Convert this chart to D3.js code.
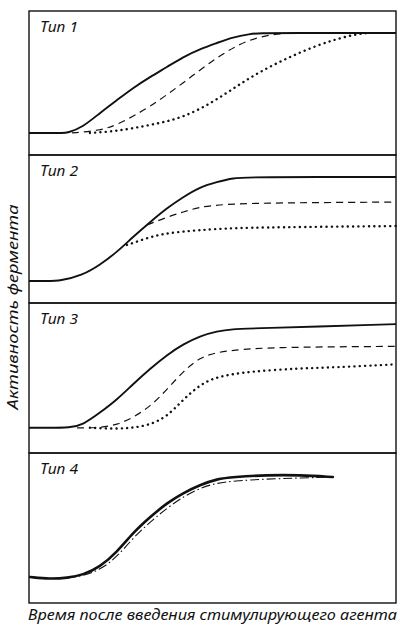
<!DOCTYPE html>
<html><head><meta charset="utf-8">
<script src="https://cdn.jsdelivr.net/npm/d3@7"></script>
<style>
html,body{margin:0;padding:0;background:#fff;}
svg{display:block;}
text{font-family:"Noto Sans","Open Sans",Lato,sans-serif;font-style:italic;fill:#111;}
</style></head>
<body>
<svg id="chart" width="405" height="631"></svg>
<script>
// ---- Data (time 0..100, enzyme activity 0..100 within each panel) ----
const panelTitles = ["Тип 1", "Тип 2", "Тип 3", "Тип 4"];
const yAxisLabel = "Активность фермента";
const xAxisLabel = "Время после введения стимулирующего агента";

const type1Solid  = [[0,15.3],[5,15.3],[9.3,15.3],[10.4,15.3],[14.7,19.4],[19.3,29.2],[24.0,38.2],[28.3,46.5],[33.0,54.2],[37.6,61.1],[42.0,68.1],[46.6,73.6],[51.2,77.8],[55.6,81.9],[60.2,84.0],[62.9,84.7],[70,84.7],[100,84.7],[100,84.7]];
const type1Dashed = [[11.7,15.3],[11.7,15.3],[19.3,17.0],[24.0,20.8],[33.0,33.3],[42.0,50.0],[51.2,68.1],[60.2,81.3],[69.2,84.7],[75,84.7],[75,84.7]];
const type1Dotted = [[16.6,15.3],[16.6,15.3],[24.0,16.5],[33.0,20.8],[42.0,25.7],[51.2,38.2],[60.2,54.2],[69.2,66.0],[78.5,76.4],[87.5,83.3],[92.1,84.7],[92.1,84.7]];

const type2Solid  = [[0,14.9],[5,14.9],[8.4,14.9],[14.7,18.9],[19.3,25.7],[24.0,34.5],[28.3,44.6],[33.0,54.7],[37.6,64.2],[42.0,71.6],[46.6,78.4],[51.2,81.8],[55.6,84.5],[60.2,85.1],[100,85.1],[100,85.1]];
const type2Dashed = [[32.2,52.7],[32.2,52.7],[37.6,58.1],[42.0,61.5],[46.6,64.9],[51.2,66.2],[60.2,67.6],[100,68.2],[100,68.2]];
const type2Dotted = [[26.7,39.2],[26.7,39.2],[33.0,44.6],[37.6,47.3],[46.6,49.3],[55.6,50.7],[73.8,51.4],[100,52.0],[100,52.0]];

const type3Solid  = [[0,16.8],[5,16.8],[11.2,16.8],[14.7,18.8],[19.3,26.8],[24.0,35.6],[28.3,45.8],[33.0,56.2],[37.6,65.4],[42.0,72.5],[46.6,77.9],[51.2,81.2],[55.6,82.6],[60,83.0],[100,85.9],[100,85.9]];
const type3Dashed = [[13.1,16.8],[13.1,16.8],[19.3,16.8],[24.0,18.8],[28.3,23.5],[33.0,30.9],[37.6,42.3],[42.0,54.4],[46.6,63.8],[51.2,67.1],[55.6,68.5],[64.9,70.5],[100,71.1],[100,71.1]];
const type3Dotted = [[16.6,16.8],[16.6,16.8],[24.0,16.1],[28.3,16.8],[33.0,18.8],[37.6,24.2],[42.0,35.6],[46.6,45.6],[51.2,51.0],[60.2,54.4],[73.8,56.4],[82.8,57.0],[100,59.1],[100,59.1]];

const type4Solid   = [[0.3,17.3],[0.3,17.3],[5.7,16.0],[10.4,16.7],[14.7,18.7],[19.3,24.0],[24.0,34.0],[28.3,46.7],[33.0,57.3],[37.6,66.7],[42.0,73.3],[46.6,78.7],[51.2,82.7],[55.6,84.0],[64.9,85.3],[73.8,85.3],[82.8,84.0],[82.8,84.0]];
const type4DashDot = [[10.4,16.7],[10.4,16.7],[14.7,18.0],[19.3,22.0],[24.0,30.7],[28.3,43.3],[33.0,54.0],[37.6,63.3],[42.0,70.7],[46.6,76.7],[51.2,80.0],[55.6,81.3],[64.9,82.7],[73.8,83.3],[82.8,84.0],[82.8,84.0]];

const panels = [
  {title: panelTitles[0], series: [{d: type1Solid, s: "solid"}, {d: type1Dashed, s: "dashed"}, {d: type1Dotted, s: "dotted"}]},
  {title: panelTitles[1], series: [{d: type2Solid, s: "solid"}, {d: type2Dashed, s: "dashed"}, {d: type2Dotted, s: "dotted"}]},
  {title: panelTitles[2], series: [{d: type3Solid, s: "solid"}, {d: type3Dashed, s: "dashed"}, {d: type3Dotted, s: "dotted"}]},
  {title: panelTitles[3], series: [{d: type4Solid, s: "thick"}, {d: type4DashDot, s: "dashdot"}]}
];

// ---- Layout ----
const left = 29, right = 396;
const edges = [11, 155, 303, 453, 603];
const styles = {
  solid:   {w: 1.9, dash: null, cap: "butt"},
  thick:   {w: 2.6, dash: null, cap: "round"},
  dashed:  {w: 1.2, dash: "7,5", cap: "butt"},
  dotted:  {w: 2.4, dash: "0.1,5.2", cap: "round"},
  dashdot: {w: 1.1, dash: "9,3,1.5,3", cap: "butt"}
};

const svg = d3.select("#chart");
const x = d3.scaleLinear().domain([0, 100]).range([left, right]);

panels.forEach((p, i) => {
  const y = d3.scaleLinear().domain([0, 100]).range([edges[i + 1], edges[i]]);
  const g = svg.append("g");
  const line = d3.line().x(d => x(d[0])).y(d => y(d[1])).curve(d3.curveBasis);
  p.series.forEach(s => {
    const st = styles[s.s];
    g.append("path").attr("d", line(s.d)).attr("fill", "none")
      .attr("stroke", "#111").attr("stroke-width", st.w)
      .attr("stroke-linecap", st.cap).attr("stroke-linejoin", "round")
      .attr("stroke-dasharray", st.dash);
  });
  g.append("rect").attr("x", left).attr("y", edges[i])
    .attr("width", right - left).attr("height", edges[i + 1] - edges[i])
    .attr("fill", "none").attr("stroke", "#111").attr("stroke-width", 1.4);
  g.append("text").attr("x", 40).attr("y", edges[i] + 21)
    .attr("font-size", 15).attr("textLength", 38).attr("lengthAdjust", "spacingAndGlyphs")
    .text(p.title);
});

svg.append("text").attr("transform", "translate(18,307) rotate(-90)")
  .attr("text-anchor", "middle").attr("font-size", 15)
  .attr("textLength", 205).attr("lengthAdjust", "spacingAndGlyphs")
  .text(yAxisLabel);

svg.append("text").attr("x", 28).attr("y", 620)
  .attr("font-size", 15).attr("textLength", 369).attr("lengthAdjust", "spacingAndGlyphs")
  .text(xAxisLabel);
</script>
</body></html>
